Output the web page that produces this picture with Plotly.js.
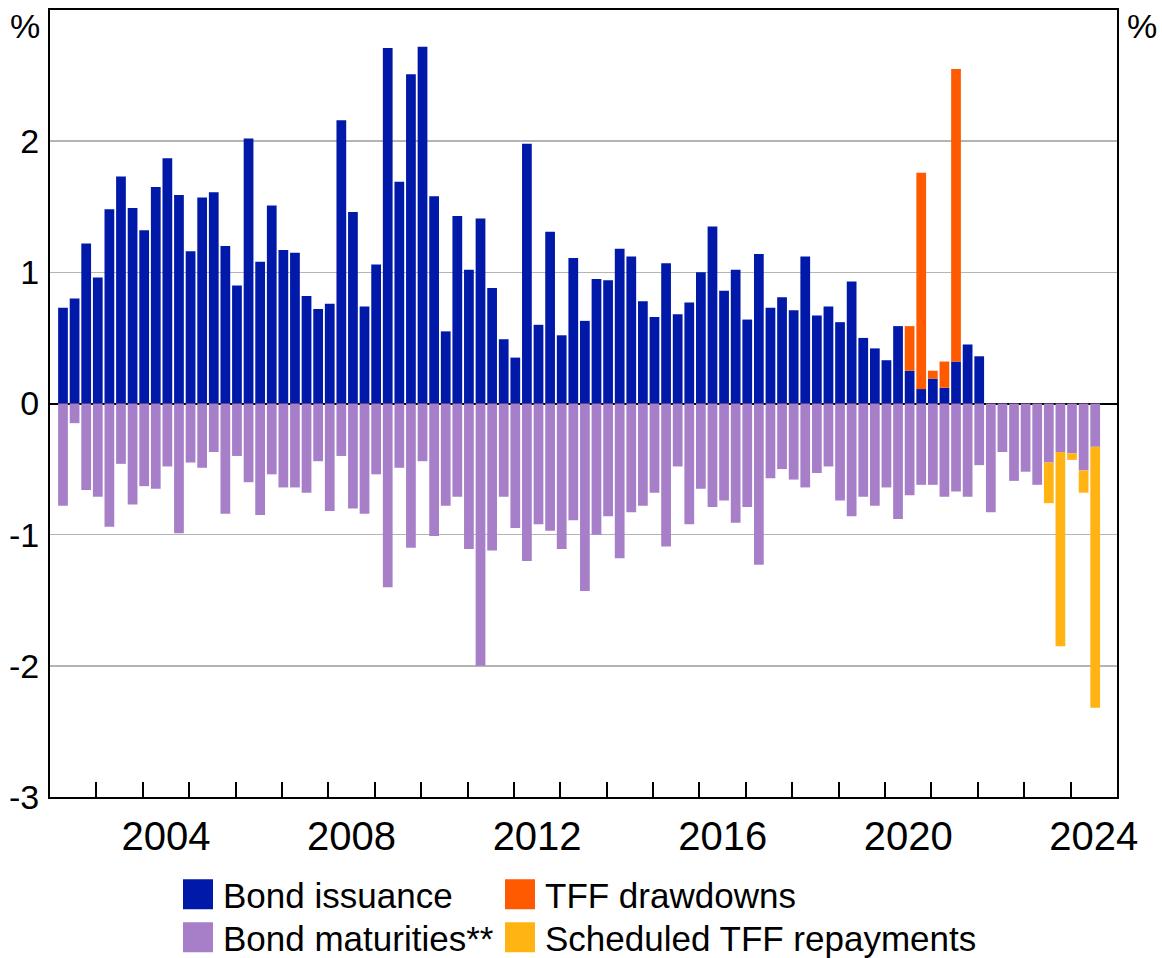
<!DOCTYPE html>
<html>
<head>
<meta charset="utf-8">
<script src="https://cdn.plot.ly/plotly-3.0.1.min.js"></script>
<style>
  html, body { margin: 0; padding: 0; background: #ffffff; }
  #chart { width: 1162px; height: 958px; }
</style>
</head>
<body>
<div id="chart"></div>
<script>
// ---- Data (quarterly, % of GDP) ----
const quarters = [
  "2002-Q1","2002-Q2","2002-Q3","2002-Q4","2003-Q1","2003-Q2","2003-Q3","2003-Q4",
  "2004-Q1","2004-Q2","2004-Q3","2004-Q4","2005-Q1","2005-Q2","2005-Q3","2005-Q4",
  "2006-Q1","2006-Q2","2006-Q3","2006-Q4","2007-Q1","2007-Q2","2007-Q3","2007-Q4",
  "2008-Q1","2008-Q2","2008-Q3","2008-Q4","2009-Q1","2009-Q2","2009-Q3","2009-Q4",
  "2010-Q1","2010-Q2","2010-Q3","2010-Q4","2011-Q1","2011-Q2","2011-Q3","2011-Q4",
  "2012-Q1","2012-Q2","2012-Q3","2012-Q4","2013-Q1","2013-Q2","2013-Q3","2013-Q4",
  "2014-Q1","2014-Q2","2014-Q3","2014-Q4","2015-Q1","2015-Q2","2015-Q3","2015-Q4",
  "2016-Q1","2016-Q2","2016-Q3","2016-Q4","2017-Q1","2017-Q2","2017-Q3","2017-Q4",
  "2018-Q1","2018-Q2","2018-Q3","2018-Q4","2019-Q1","2019-Q2","2019-Q3","2019-Q4",
  "2020-Q1","2020-Q2","2020-Q3","2020-Q4","2021-Q1","2021-Q2","2021-Q3","2021-Q4",
  "2022-Q1","2022-Q2","2022-Q3","2022-Q4","2023-Q1","2023-Q2","2023-Q3","2023-Q4",
  "2024-Q1","2024-Q2"
];

// Bond issuance, 2002-Q1 to 2021-Q4
const bondIssuance = [
  0.73, 0.80, 1.22, 0.96, 1.48, 1.73, 1.49, 1.32, 1.65, 1.87,
  1.59, 1.16, 1.57, 1.61, 1.20, 0.90, 2.02, 1.08, 1.51, 1.17,
  1.15, 0.82, 0.72, 0.76, 2.16, 1.46, 0.74, 1.06, 2.71, 1.69,
  2.51, 2.72, 1.58, 0.55, 1.43, 1.02, 1.41, 0.88, 0.49, 0.35,
  1.98, 0.60, 1.31, 0.52, 1.11, 0.63, 0.95, 0.94, 1.18, 1.12,
  0.78, 0.66, 1.07, 0.68, 0.77, 1.00, 1.35, 0.86, 1.02, 0.64,
  1.14, 0.73, 0.81, 0.71, 1.12, 0.67, 0.74, 0.62, 0.93, 0.50,
  0.42, 0.33, 0.59, 0.25, 0.11, 0.19, 0.12, 0.32, 0.45, 0.36
];

// Bond maturities, 2002-Q1 to 2024-Q2
const bondMaturities = [
  -0.78, -0.15, -0.66, -0.71, -0.94, -0.46, -0.77, -0.63, -0.65, -0.48,
  -0.99, -0.45, -0.49, -0.37, -0.84, -0.40, -0.60, -0.85, -0.54, -0.64,
  -0.64, -0.68, -0.44, -0.82, -0.40, -0.80, -0.84, -0.54, -1.40, -0.49,
  -1.10, -0.44, -1.01, -0.78, -0.71, -1.11, -2.00, -1.12, -0.71, -0.95,
  -1.20, -0.92, -0.97, -1.11, -0.89, -1.43, -1.00, -0.86, -1.18, -0.83,
  -0.78, -0.68, -1.09, -0.48, -0.92, -0.65, -0.79, -0.74, -0.91, -0.79,
  -1.23, -0.57, -0.50, -0.58, -0.64, -0.53, -0.48, -0.74, -0.86, -0.71,
  -0.78, -0.64, -0.88, -0.70, -0.62, -0.62, -0.71, -0.67, -0.71, -0.47,
  -0.83, -0.37, -0.59, -0.52, -0.62, -0.45, -0.37, -0.38, -0.51, -0.33
];

const tffDrawdownQuarters = ["2020-Q2","2020-Q3","2020-Q4","2021-Q1","2021-Q2"];
const tffDrawdowns = [0.34, 1.65, 0.06, 0.20, 2.23];

const tffRepaymentQuarters = ["2023-Q2","2023-Q3","2023-Q4","2024-Q1","2024-Q2"];
const tffRepayments = [-0.31, -1.48, -0.05, -0.17, -1.99];

const yearLabels = ["2004","2008","2012","2016","2020","2024"];
const yTickLabels = ["-3","-2","-1","0","1","2"];

// ---- Helpers ----
// A quarter is placed just after its quarter-end on a numeric year axis.
function qx(label) {
  const y = parseInt(label.slice(0, 4), 10);
  const q = parseInt(label.slice(6), 10);
  return y + q * 0.25 + 0.03;
}

const FONT = "Liberation Sans, Arial, Helvetica, sans-serif";

const traces = [
  {
    type: "bar", name: "Bond issuance", legend: "legend",
    x: quarters.slice(0, bondIssuance.length).map(qx), y: bondIssuance,
    marker: { color: "#0019A8", line: { width: 0 } }, hoverinfo: "skip"
  },
  {
    type: "bar", name: "Bond maturities**", legend: "legend3",
    x: quarters.map(qx), y: bondMaturities,
    marker: { color: "#A67FC8", line: { width: 0 } }, hoverinfo: "skip"
  },
  {
    type: "bar", name: "TFF drawdowns", legend: "legend2",
    x: tffDrawdownQuarters.map(qx), y: tffDrawdowns,
    marker: { color: "#FF5A00", line: { width: 0 } }, hoverinfo: "skip"
  },
  {
    type: "bar", name: "Scheduled TFF repayments", legend: "legend4",
    x: tffRepaymentQuarters.map(qx), y: tffRepayments,
    marker: { color: "#FFB414", line: { width: 0 } }, hoverinfo: "skip"
  }
];

const yearBoundaries = [];
for (let yr = 2003; yr <= 2024; yr++) yearBoundaries.push(yr);
const labelPositions = yearLabels.map(s => parseInt(s, 10) + 0.5);
const yTickVals = yTickLabels.map(Number);

function legendAt(px, py) {
  return {
    xref: "container", yref: "container", xanchor: "left", yanchor: "top",
    x: px / 1162, y: 1 - py / 958,
    orientation: "v", bgcolor: "rgba(0,0,0,0)", borderwidth: 0,
    font: { family: FONT, size: 35, color: "#000000" }, traceorder: "normal"
  };
}

const layout = {
  width: 1162, height: 958,
  margin: { l: 50, r: 45, t: 10, b: 161, pad: 0, autoexpand: false },
  paper_bgcolor: "#ffffff", plot_bgcolor: "#ffffff",
  font: { family: FONT, color: "#000000", size: 34 },
  barmode: "relative",
  bargap: 0.16,
  showlegend: true,
  xaxis: {
    range: [2002, 2025], automargin: false,
    tickmode: "array", tickvals: labelPositions, ticktext: yearLabels, tickangle: 0,
    ticks: "", showgrid: false, zeroline: false,
    showline: true, linecolor: "#000000", linewidth: 2, mirror: true,
    tickfont: { family: FONT, size: 40, color: "#000000" },
    ticklabelstandoff: 3,
    minor: {
      tickmode: "array", tickvals: yearBoundaries,
      ticks: "inside", ticklen: 15, tickwidth: 2, tickcolor: "#000000",
      showgrid: false
    }
  },
  yaxis: {
    range: [-3, 3], automargin: false,
    tickmode: "array", tickvals: yTickVals, ticktext: yTickLabels,
    ticks: "", showgrid: true, gridcolor: "#B4B4B4", gridwidth: 1.5,
    zeroline: true, zerolinecolor: "#000000", zerolinewidth: 2,
    showline: true, linecolor: "#000000", linewidth: 2, mirror: true,
    tickfont: { family: FONT, size: 34, color: "#000000" },
    ticklabelstandoff: 2
  },
  yaxis2: {
    overlaying: "y", side: "right", anchor: "x", automargin: false,
    range: [-3, 3],
    tickmode: "array", tickvals: yTickVals, ticktext: yTickLabels,
    ticks: "", showgrid: false, zeroline: false, showline: false,
    tickfont: { family: FONT, size: 34, color: "#000000" },
    ticklabelstandoff: 7
  },
  legend: legendAt(183, 865),
  legend2: legendAt(505, 865),
  legend3: legendAt(183, 908),
  legend4: legendAt(505, 908),
  annotations: [
    { xref: "paper", yref: "paper", x: 0, y: 1, xanchor: "right", yanchor: "top",
      xshift: -8, yshift: 5, text: "%", showarrow: false,
      font: { family: FONT, size: 34, color: "#000000" } },
    { xref: "paper", yref: "paper", x: 1, y: 1, xanchor: "left", yanchor: "top",
      xshift: 8, yshift: 5, text: "%", showarrow: false,
      font: { family: FONT, size: 34, color: "#000000" } }
  ]
};

Plotly.newPlot("chart", traces, layout, { displayModeBar: false, staticPlot: true }).then(function (gd) {
  // enlarge legend swatches to match the reference's large square keys
  gd.querySelectorAll(".legendpoints path").forEach(function (p) {
    p.setAttribute("d", "M0,15H30V-15H0Z");
    p.removeAttribute("transform");
  });
});
</script>
</body>
</html>
